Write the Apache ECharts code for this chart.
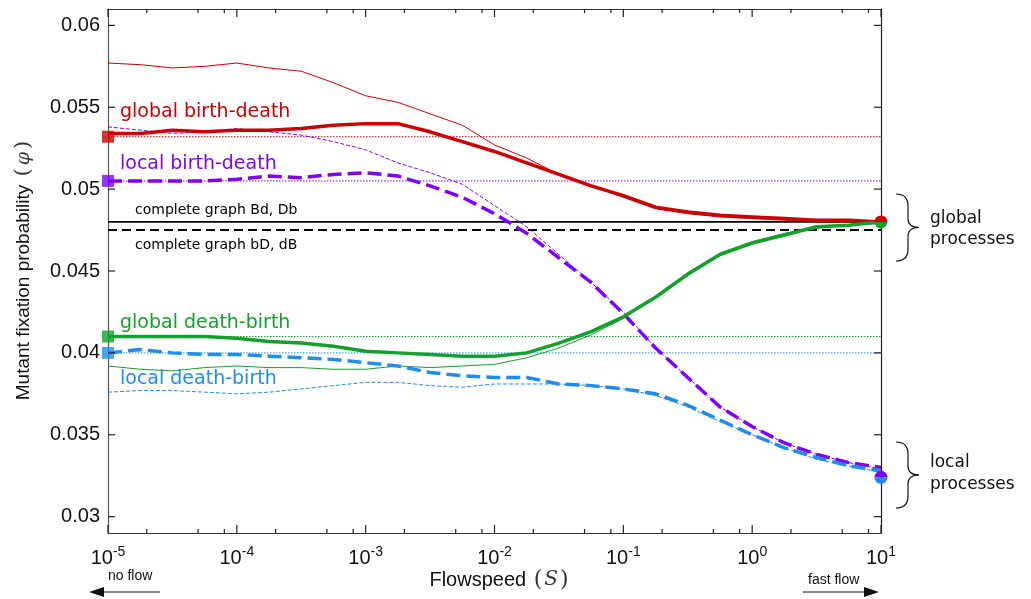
<!DOCTYPE html>
<html><head><meta charset="utf-8">
<script src="https://cdn.jsdelivr.net/npm/echarts@6/dist/echarts.min.js"></script>
<style>html,body{margin:0;padding:0;background:#fff}#c{width:1031px;height:599px}</style>
</head><body><div id="c"></div>
<script>
// Flow speed grid (quarter decades, 1e-5 .. 1e1)
const S = [1e-5,1.778e-5,3.162e-5,5.623e-5,1e-4,1.778e-4,3.162e-4,5.623e-4,1e-3,1.778e-3,3.162e-3,5.623e-3,1e-2,1.778e-2,3.162e-2,5.623e-2,1e-1,1.778e-1,3.162e-1,5.623e-1,1,1.778,3.162,5.623,10];
// global birth-death
const redThick = [0.0534,0.0534,0.0536,0.0535,0.0536,0.0536,0.0537,0.0539,0.0540,0.0540,0.0535,0.0529,0.0523,0.0516,0.0509,0.0502,0.0496,0.0489,0.0486,0.0484,0.0483,0.0482,0.0481,0.0481,0.0480];
const redThin  = [0.0577,0.0576,0.0574,0.0575,0.0577,0.0574,0.0572,0.0565,0.0557,0.0553,0.0546,0.0539,0.0527,0.0519,0.0509,0.0502,0.0495,0.0488,0.0485,0.0483,0.0482,0.0481,0.0480,0.0480,0.0481];
// local birth-death
const purpleThick = [0.0505,0.0505,0.0505,0.0505,0.0506,0.0508,0.0507,0.0509,0.0510,0.0508,0.0502,0.0495,0.0485,0.0473,0.0458,0.0443,0.0424,0.0403,0.0385,0.0367,0.0355,0.0345,0.0338,0.0333,0.0330];
const purpleThin  = [0.0538,0.0536,0.0534,0.0535,0.0537,0.0535,0.0533,0.0529,0.0524,0.0516,0.0510,0.0503,0.0490,0.0477,0.0460,0.0443,0.0425,0.0403,0.0385,0.0367,0.0355,0.0345,0.0338,0.0333,0.0329];
// global death-birth
const greenThick = [0.0410,0.0410,0.0410,0.0410,0.0409,0.0407,0.0406,0.0404,0.0401,0.0400,0.0399,0.0398,0.0398,0.0400,0.0406,0.0413,0.0422,0.0434,0.0448,0.0460,0.0467,0.0472,0.0477,0.0478,0.0480];
const greenThin  = [0.0392,0.0390,0.0389,0.0391,0.0392,0.0391,0.0391,0.0390,0.0390,0.0392,0.0391,0.0392,0.0393,0.0397,0.0403,0.0411,0.0421,0.0434,0.0449,0.0461,0.0468,0.0473,0.0476,0.0478,0.0479];
// local death-birth
const blueThick = [0.0400,0.0402,0.0400,0.0399,0.0399,0.0398,0.0397,0.0396,0.0394,0.0392,0.0388,0.0386,0.0385,0.0385,0.0381,0.0380,0.0378,0.0375,0.0368,0.0359,0.0350,0.0342,0.0336,0.0331,0.0328];
const blueThin  = [0.0376,0.0377,0.0377,0.0376,0.0375,0.0376,0.0378,0.0380,0.0382,0.0382,0.0380,0.0379,0.0381,0.0381,0.0381,0.0380,0.0378,0.0374,0.0367,0.0358,0.0350,0.0342,0.0335,0.0331,0.0327];
// reference (no-flow) levels
const refRed = 0.0532, refPurple = 0.0505, refGreen = 0.0410, refBlue = 0.0400;
// complete graph levels
const completeBdDb = 0.0480, completebDdB = 0.0475;
// fast-flow limits
const globalLimit = 0.0480, localLimit = 0.0324;
// ticks
const xMajor = [1e-5,1e-4,1e-3,1e-2,1e-1,1,10];
const xMinor = [2e-5,5e-5,8e-5,2e-4,5e-4,8e-4,2e-3,5e-3,8e-3,2e-2,5e-2,8e-2,0.2,0.5,0.8,2,5,8];
const yTicks = [0.03,0.035,0.04,0.045,0.05,0.055,0.06];
const X_MIN = 1e-5, X_MAX = 10, Y_MIN = 0.029, Y_MAX = 0.061;

const RED='#cc0000', PURPLE='#7f00ff', GREEN='#13a12b', BLUE='#1e8cf0';
const pairs = ys => S.map((s,i)=>[s, ys[i]]);
function ln(ys, color, width, type, z){
  return {type:'line', data:pairs(ys), symbol:'none', silent:true, animation:false,
    lineStyle:{color, width, type}, z};
}
function hline(v, color, width, type, z){
  return {type:'line', data:[[X_MIN, v],[X_MAX, v]], symbol:'none', silent:true, animation:false,
    lineStyle:{color, width, type}, z};
}
function sq(v, color){
  return {type:'scatter', data:[[X_MIN, v]], symbol:'rect', symbolSize:12, clip:false, silent:true,
    animation:false, itemStyle:{color}, z:10};
}
function halfDot(v, topColor, botColor){
  return {type:'custom', data:[[X_MAX, v]], clip:false, silent:true, animation:false, z:11,
    renderItem:(params, api)=>{
      const p = api.coord([api.value(0), api.value(1)]);
      return {type:'group', children:[
        {type:'sector', shape:{cx:p[0], cy:p[1], r0:0, r:6.5, startAngle:Math.PI, endAngle:2*Math.PI}, style:{fill:topColor}},
        {type:'sector', shape:{cx:p[0], cy:p[1], r0:0, r:6.5, startAngle:0, endAngle:Math.PI}, style:{fill:botColor}}
      ]};
    }};
}
// tick marks on all four sides (inward), placed through the axes' scales
function tickSeries(data, kind){
  return {type:'custom', data, clip:false, silent:true, animation:false, z:20,
    renderItem:(params, api)=>{
      const x = api.value(0), y = api.value(1), c = '#222';
      if (kind === 'y') {
        const a = api.coord([X_MIN, y]), b = api.coord([X_MAX, y]);
        return {type:'group', children:[
          {type:'rect', shape:{x:a[0], y:a[1]-0.6, width:7, height:1.2}, style:{fill:c}},
          {type:'rect', shape:{x:b[0]-7, y:b[1]-0.6, width:7, height:1.2}, style:{fill:c}}]};
      }
      const len = kind === 'major' ? 8 : 4;
      const a = api.coord([x, Y_MIN]), b = api.coord([x, Y_MAX]);
      return {type:'group', children:[
        {type:'rect', shape:{x:a[0]-0.6, y:a[1]-len, width:1.2, height:len}, style:{fill:c}},
        {type:'rect', shape:{x:b[0]-0.6, y:b[1], width:1.2, height:len}, style:{fill:c}}]};
    }};
}
const labFont = 'Liberation Sans';
function xAx(pos, showLabel){
  return {type:'log', logBase:10, min:X_MIN, max:X_MAX, position:pos,
    splitLine:{show:false},
    axisLine:{show:true, lineStyle:{color:'#333', width:1.2}},
    axisTick:{show:false},
    axisLabel:{show:showLabel, customValues:xMajor, margin:12,
      formatter:v=>'{b|10}{s|'+Math.round(Math.log10(v))+'}',
      rich:{b:{fontSize:20, fontFamily:labFont, color:'#111'}, s:{fontSize:14, fontFamily:labFont, color:'#111', padding:[0,0,12,0]}}}
  };
}
function yAx(pos, showLabel){
  return {type:'value', min:Y_MIN, max:Y_MAX, position:pos, splitLine:{show:false},
    axisLine:{show:true, lineStyle:{color: pos==='left' ? '#555' : '#222', width:1.2}},
    axisTick:{show:false},
    axisLabel:{show:showLabel, customValues:yTicks, margin:8, fontSize:20, fontFamily:labFont, color:'#111',
      formatter:v=>String(+(+v).toFixed(3))}
  };
}
function brace(x0, y0, y1){
  const ym=(y0+y1)/2, xv=x0+12, xt=x0+23;
  const st = {fill:null, stroke:'#111', lineWidth:1.2};
  const q = (x1,y1,cx,cy,x2,y2)=>({type:'bezierCurve', silent:true, shape:{x1,y1,cpx1:cx,cpy1:cy,x2,y2}, style:st});
  const l = (x1,y1,x2,y2)=>({type:'line', silent:true, shape:{x1,y1,x2,y2}, style:st});
  return [q(x0,y0,xv,y0,xv,y0+12), l(xv,y0+12,xv,ym-9), q(xv,ym-9,xv,ym,xt,ym),
          q(xt,ym,xv,ym,xv,ym+9), l(xv,ym+9,xv,y1-12), q(xv,y1-12,xv,y1,x0,y1)];
}
const txt = (x, y, text, color, size, family) => ({type:'text', x, y, silent:true,
  style:{text, fill:color, font:`${size}px "${family}"`, align:'left', verticalAlign:'middle'}});

const option = {
  backgroundColor:'#fff',
  animation:false,
  grid:{left:108, right:150, top:9, bottom:66, containLabel:false},
  xAxis:[xAx('bottom', true), xAx('top', false)],
  yAxis:[yAx('left', true), yAx('right', false)],
  series:[
    hline(refRed, RED, 1, [1.5,1.5], 2),
    hline(refPurple, PURPLE, 1, [1.5,1.5], 2),
    hline(refGreen, GREEN, 1, [1.5,1.5], 2),
    hline(refBlue, BLUE, 1, [1.5,1.5], 2),
    hline(completeBdDb, '#000', 1.6, 'solid', 3),
    hline(completebDdB, '#000', 2, [9,5], 3),
    ln(redThin, RED, 1, 'solid', 4),
    ln(purpleThin, PURPLE, 1, [4,2], 4),
    ln(greenThin, GREEN, 1, 'solid', 4),
    ln(blueThin, BLUE, 1, [4,2], 4),
    ln(redThick, RED, 3.5, 'solid', 5),
    ln(purpleThick, PURPLE, 3.5, [14,6], 5),
    ln(greenThick, GREEN, 3.5, 'solid', 5),
    ln(blueThick, BLUE, 3.5, [14,6], 5),
    sq(refRed, RED), sq(refPurple, PURPLE), sq(refGreen, GREEN), sq(refBlue, BLUE),
    halfDot(globalLimit, RED, GREEN),
    halfDot(localLimit, PURPLE, BLUE),
    tickSeries(yTicks.map(v=>[X_MIN, v]), 'y'),
    tickSeries(xMajor.map(v=>[v, Y_MIN]), 'major'),
    tickSeries(xMinor.map(v=>[v, Y_MIN]), 'minor')
  ],
  graphic:[
    txt(120, 112, 'global birth-death', RED, 19, 'DejaVu Sans'),
    txt(120, 164, 'local birth-death', PURPLE, 19, 'DejaVu Sans'),
    txt(120, 323, 'global death-birth', GREEN, 19, 'DejaVu Sans'),
    txt(120, 379, 'local death-birth', BLUE, 19, 'DejaVu Sans'),
    txt(135, 210, 'complete graph Bd, Db', '#000', 14, 'DejaVu Sans'),
    txt(135, 245, 'complete graph bD, dB', '#000', 14, 'DejaVu Sans'),
    txt(930, 219, 'global', '#111', 17, 'DejaVu Sans'),
    txt(930, 240, 'processes', '#111', 17, 'DejaVu Sans'),
    txt(930, 463, 'local', '#111', 17, 'DejaVu Sans'),
    txt(930, 485, 'processes', '#111', 17, 'DejaVu Sans'),
    ...brace(896,194,261),
    ...brace(896,442,508),
    // y-axis title
    {type:'text', x:24, y:269, rotation:Math.PI/2, silent:true,
      style:{text:'{a|Mutant fixation probability }{p|(}{f|φ}{p|)}', align:'center', verticalAlign:'middle',
        rich:{a:{fontSize:19, fontFamily:labFont, fill:'#111'}, p:{fontSize:21, fontFamily:'DejaVu Serif', fill:'#333', padding:[0,3,0,3]},
              f:{fontSize:19, fontFamily:'DejaVu Serif', fontStyle:'italic', fill:'#333'}}}},
    // x-axis title
    {type:'text', x:500, y:580, silent:true,
      style:{text:'{a|Flowspeed }{p|(}{s|S}{p|)}', align:'center', verticalAlign:'middle',
        rich:{a:{fontSize:20, fontFamily:labFont, fill:'#111'}, p:{fontSize:22, fontFamily:'DejaVu Serif', fill:'#333', padding:[0,2,0,2]},
              s:{fontSize:20, fontFamily:'DejaVu Serif', fontStyle:'italic', fill:'#333'}}}},
    // flow arrows
    txt(108, 576, 'no flow', '#111', 14, labFont),
    {type:'line', silent:true, shape:{x1:100, y1:592, x2:160, y2:592}, style:{stroke:'#111', lineWidth:1.2}},
    {type:'polygon', silent:true, shape:{points:[[89,592],[104,587],[104,597]]}, style:{fill:'#111'}},
    txt(808, 580, 'fast flow', '#111', 14, labFont),
    {type:'line', silent:true, shape:{x1:803, y1:592, x2:866, y2:592}, style:{stroke:'#111', lineWidth:1.2}},
    {type:'polygon', silent:true, shape:{points:[[879,592],[864,587],[864,597]]}, style:{fill:'#111'}}
  ]
};
const chart = echarts.init(document.getElementById('c'), null, {renderer:'canvas'});
chart.setOption(option);
</script>
</body></html>
